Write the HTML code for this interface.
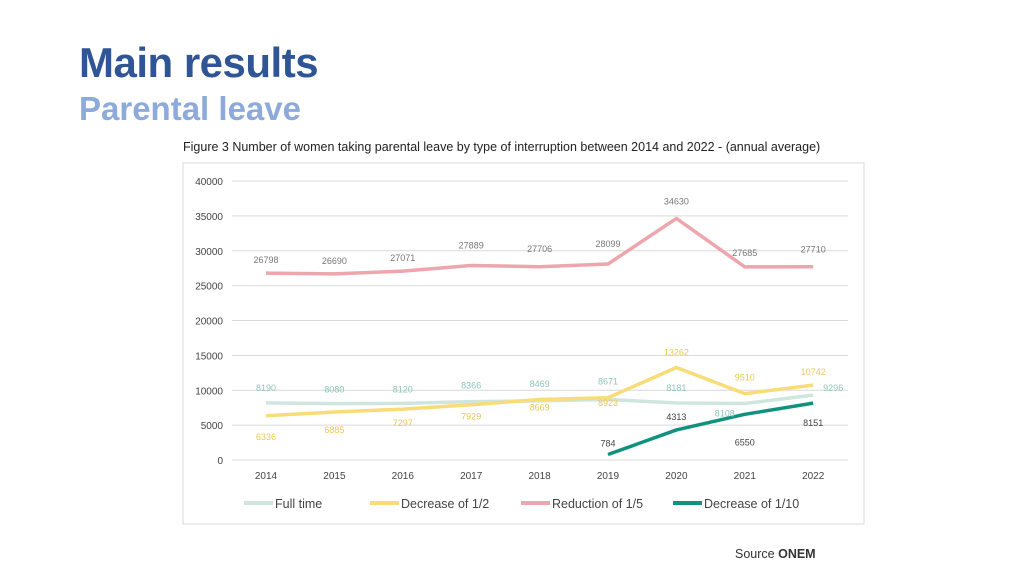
<!DOCTYPE html>
<html><head><meta charset="utf-8"><style>
body{margin:0;width:1024px;height:576px;background:#fff;overflow:hidden;font-family:"Liberation Sans",sans-serif;position:relative}
#t1{position:absolute;left:79px;top:39px;font-size:42px;font-weight:bold;color:#2f5597;letter-spacing:-0.5px}
#t2{position:absolute;left:79px;top:90px;font-size:33px;font-weight:bold;color:#8eaadb}
#cap{position:absolute;left:183px;top:140px;font-size:12.5px;color:#222}
#src{position:absolute;left:735px;top:547px;font-size:12.5px;color:#333}
svg{position:absolute;left:0;top:0}
</style></head><body>
<div id="t1">Main results</div>
<div id="t2">Parental leave</div>
<div id="cap">Figure 3 Number of women taking parental leave by type of interruption between 2014 and 2022 - (annual average)</div>
<div id="src">Source <b>ONEM</b></div>
<svg id="chart" width="1024" height="576"></svg>
<script>
const years=[2014,2015,2016,2017,2018,2019,2020,2021,2022];
const yTicks=[0,5000,10000,15000,20000,25000,30000,35000,40000];
const fullTime=[8190,8080,8120,8366,8469,8671,8181,8108,9296];
const half=[6336,6885,7297,7929,8669,8923,13262,9510,10742];
const fifth=[26798,26690,27071,27889,27706,28099,34630,27685,27710];
const tenth=[null,null,null,null,null,784,4313,6550,8151];
const NS="http://www.w3.org/2000/svg",svg=document.getElementById('chart');
function X(i){return 266+i*68.4}
function Y(v){return 460-v*(279/40000)}
function mk(tag,a,txt){const e=document.createElementNS(NS,tag);for(const k in a)e.setAttribute(k,a[k]);if(txt!==undefined)e.textContent=txt;svg.appendChild(e);return e}
let fr=mk('rect',{x:183,y:163,width:681,height:361,fill:'#fff',stroke:'#d9d9d9'});


yTicks.forEach(v=>{
 let g=mk('line',{x1:232,x2:848,y1:Y(v),y2:Y(v),stroke:'#d9d9d9','stroke-width':1});
 
 
 let t=mk('text',{x:223,y:Y(v)+4,'text-anchor':'end','font-size':10,fill:'#444'},v);
 
 
});
years.forEach((y,i)=>{
 let t=mk('text',{x:X(i),y:479,'text-anchor':'middle','font-size':10,fill:'#444'},y);
 
 
});
const series=[
 {d:fifth,c:'#eda6ad',lc:'#777',name:'reduction-1-5',dy:[-13,-13,-13,-20,-18,-20,-17,-14,-17],dx:[0,0,0,0,0,0,0,0,0]},
 {d:fullTime,c:'#cfe6df',lc:'#8fc5b8',name:'full-time',dy:[-15,-14,-14,-16,-17,-18,-15,10,-7],dx:[0,0,0,0,0,0,0,-20,20]},
 {d:half,c:'#f7dc78',lc:'#e8c85a',name:'decrease-1-2',dy:[21,18,14,12,8,5,-15,-16,-13],dx:[0,0,0,0,0,0,0,0,0]},
 {d:tenth,c:'#13917f',lc:'#444',name:'decrease-1-10',dy:[0,0,0,0,0,-11,-13,28,20],dx:[0,0,0,0,0,0,0,0,0]}
];
series.forEach(s=>{
 let pts=[];s.d.forEach((v,i)=>{if(v!==null)pts.push(X(i)+','+Y(v))});
 let p=mk('polyline',{points:pts.join(' '),fill:'none',stroke:s.c,'stroke-width':3.5,'stroke-linejoin':'round'});
 
 
});
series.forEach(s=>{
 s.d.forEach((v,i)=>{if(v===null)return;
  let t=mk('text',{x:X(i)+s.dx[i],y:Y(v)+s.dy[i]+3,'text-anchor':'middle','font-size':9,fill:s.lc},v);
  
  
 });
});
const leg=[['Full time','#cfe6df',244],['Decrease of 1/2','#f7dc78',370],['Reduction of 1/5','#eda6ad',521],['Decrease of 1/10','#13917f',673]];
leg.forEach(l=>{
 let r=mk('line',{x1:l[2],x2:l[2]+29,y1:503,y2:503,stroke:l[1],'stroke-width':4});
 
 
 let t=mk('text',{x:l[2]+31,y:508,'font-size':12.5,fill:'#444'},l[0]);
 
 
});
</script>
</body></html>
